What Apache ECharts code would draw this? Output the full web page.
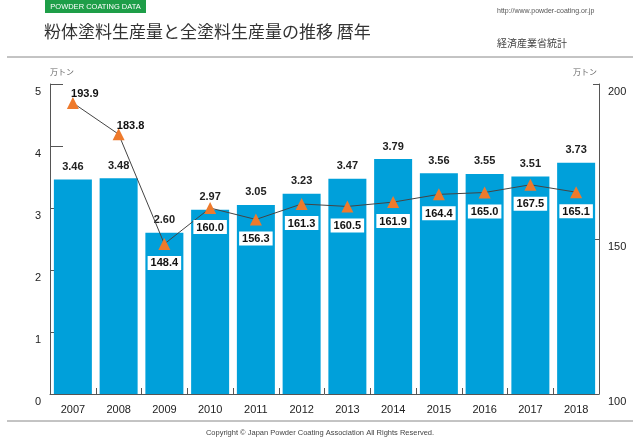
<!DOCTYPE html>
<html><head><meta charset="utf-8">
<script src="https://cdn.jsdelivr.net/npm/echarts@6/dist/echarts.min.js"></script>
<style>html,body{margin:0;padding:0;background:#fff}#c{width:640px;height:441px}</style>
</head><body><div id="c"></div>
<script>
const years = ['2007','2008','2009','2010','2011','2012','2013','2014','2015','2016','2017','2018'];
const powderValues = [3.46, 3.48, 2.60, 2.97, 3.05, 3.23, 3.47, 3.79, 3.56, 3.55, 3.51, 3.73];
const totalValues = [193.9, 183.8, 148.4, 160.0, 156.3, 161.3, 160.5, 161.9, 164.4, 165.0, 167.5, 165.1];
const leftTicks = {min: 0, max: 5, interval: 1};
const rightTicks = {min: 100, max: 200, interval: 50};

const numFont = 'Liberation Sans, Arial, sans-serif';
const jpFont = 'Noto Sans CJK JP, sans-serif';

const lineData = totalValues.map((v, i) => {
  if (i < 2) {
    return {value: v, label: {position: 'top', distance: 3, offset: [12, 7], backgroundColor: 'transparent'}};
  }
  return v;
});

const chart = echarts.init(document.getElementById('c'), null, {renderer: 'canvas'});
chart.setOption({
  animation: false,
  backgroundColor: '#fff',
  grid: {left: 50, right: 41, top: 84, bottom: 47, containLabel: false},
  xAxis: {
    type: 'category', data: years,
    axisLine: {lineStyle: {color: '#555', width: 1}},
    axisTick: {show: true, inside: true, length: 6, lineStyle: {color: '#555'}},
    axisLabel: {color: '#222', fontSize: 11, fontFamily: numFont, margin: 10}
  },
  yAxis: [
    {type: 'value', min: leftTicks.min, max: leftTicks.max, interval: leftTicks.interval,
     axisLine: {show: true, lineStyle: {color: '#555'}},
     axisTick: {show: true, inside: true, length: 13, lineStyle: {color: '#555'}},
     splitLine: {show: false},
     axisLabel: {color: '#222', fontSize: 11, fontFamily: numFont, margin: 9, verticalAlign: 'top', padding: [2,0,0,0]},
     name: '万トン', nameLocation: 'end', nameGap: 8,
     nameTextStyle: {color: '#666', fontSize: 8, fontFamily: jpFont, align: 'left'}},
    {type: 'value', min: rightTicks.min, max: rightTicks.max, interval: rightTicks.interval, position: 'right',
     axisLine: {show: true, lineStyle: {color: '#555'}},
     axisTick: {show: true, inside: true, length: 6, lineStyle: {color: '#555'}},
     splitLine: {show: false},
     axisLabel: {color: '#222', fontSize: 11, fontFamily: numFont, margin: 9, verticalAlign: 'top', padding: [2,0,0,0]},
     name: '万トン', nameLocation: 'end', nameGap: 8,
     nameTextStyle: {color: '#666', fontSize: 8, fontFamily: jpFont, align: 'right', padding: [0,2,0,0]}}
  ],
  series: [
    {type: 'bar', data: powderValues, barWidth: 38, yAxisIndex: 0,
     itemStyle: {color: '#00A0DA'},
     label: {show: true, position: 'top', distance: 7, color: '#222', fontWeight: 'bold', fontSize: 11, fontFamily: numFont,
             formatter: p => p.value.toFixed(2)}},
    {type: 'line', data: lineData, yAxisIndex: 1, z: 5,
     lineStyle: {color: '#444', width: 1},
     symbol: 'triangle', symbolSize: 12,
     itemStyle: {color: '#EE7A2C'},
     label: {show: true, position: 'bottom', distance: 5, color: '#111', fontWeight: 'bold', fontSize: 11, fontFamily: numFont,
             backgroundColor: '#fff', padding: [2, 3, 1, 3], offset: [0, 1],
             formatter: p => Number(p.value).toFixed(1)}}
  ],
  graphic: [
    {type: 'rect', shape: {x: 45, y: 0, width: 101, height: 13}, style: {fill: '#1E9E48'}},
    {type: 'text', x: 95.5, y: 7, style: {text: 'POWDER COATING DATA', fill: '#fff', font: '7.5px ' + numFont, textAlign: 'center', textVerticalAlign: 'middle'}},
    {type: 'text', x: 44, y: 32, style: {text: '粉体塗料生産量と全塗料生産量の推移 暦年', fill: '#333', font: '17px ' + jpFont, textVerticalAlign: 'middle'}},
    {type: 'text', x: 497, y: 11, style: {text: 'http://www.powder-coating.or.jp', fill: '#555', font: '7px ' + numFont, textVerticalAlign: 'middle'}},
    {type: 'text', x: 497, y: 43, style: {text: '経済産業省統計', fill: '#444', font: '10px ' + jpFont, textVerticalAlign: 'middle'}},
    {type: 'line', shape: {x1: 7, y1: 57, x2: 633, y2: 57}, style: {stroke: '#888', lineWidth: 1}},
    {type: 'line', shape: {x1: 7, y1: 421, x2: 633, y2: 421}, style: {stroke: '#888', lineWidth: 1}},
    {type: 'text', x: 320, y: 433, style: {text: 'Copyright © Japan Powder Coating Association All Rights Reserved.', fill: '#444', font: '7.5px ' + numFont, textAlign: 'center', textVerticalAlign: 'middle'}}
  ]
});
</script></body></html>
